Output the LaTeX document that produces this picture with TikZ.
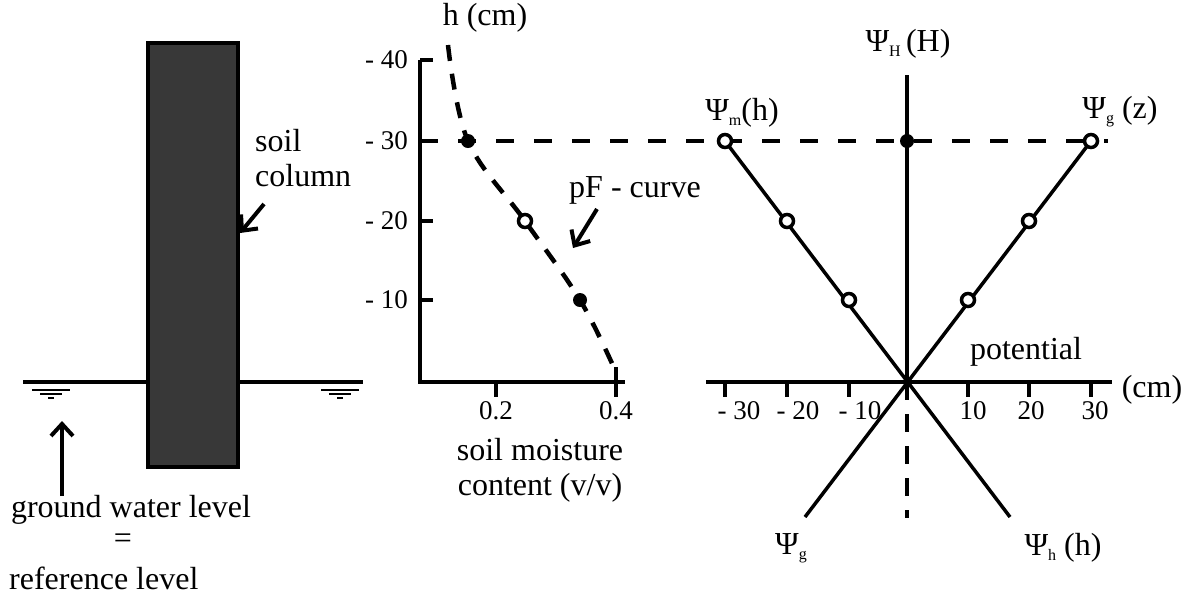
\documentclass[tikz,border=0pt]{standalone}
\usepackage{fontspec}
\setmainfont{Liberation Serif}
\usetikzlibrary{arrows.meta}
\newcommand{\psub}[1]{\raisebox{-5pt}{\fontsize{16}{16}\selectfont #1}}

\begin{document}
\begin{tikzpicture}[x=1pt,y=-1pt,
  lab/.style={font=\fontsize{32}{35}\selectfont,inner sep=0pt,align=center},
  num/.style={font=\fontsize{27}{29}\selectfont,inner sep=0pt},
  axis/.style={line width=4pt},
  gline/.style={line width=3.5pt},
  dline/.style={line width=4.5pt,dash pattern=on 18pt off 20pt},
  fdot/.style={circle,fill,inner sep=0pt,minimum size=14pt},
  odot/.style={circle,draw,fill=white,line width=3.5pt,inner sep=0pt,minimum size=13pt},
  pointer/.style={line width=4pt,-{Straight Barb[length=12pt,width=22pt]}}]
\useasboundingbox (0,0) rectangle (1190,598);
% soil column and ground water level
\draw[axis] (23,382) -- (363,382);
\draw[line width=3.5pt,fill=black!78] (148,43) rectangle (238,467);
\foreach \cx in {51,340} {
  \draw[line width=2pt] (\cx-19,390) -- (\cx+19,390);
  \draw[line width=2pt] (\cx-11,394) -- (\cx+11,394);
  \draw[line width=2pt] (\cx-3,398) -- (\cx+3,398);
}
\node[lab,align=left,anchor=west] (soil) at (255,158) {soil\\column};
\coordinate (soiltail) at (264,204);
\coordinate (soilhead) at (240,233);
\draw[pointer] (soiltail) -- (soilhead);
\node[lab] (gwl) at (131,510) {ground water level};
\node[lab] (eq) at (123,541) {=};
\node[lab,anchor=west] (ref) at (9,578) {reference level};
\coordinate (gwtail) at (62,496);
\coordinate (gwhead) at (62,421);
\draw[pointer] (gwtail) -- (gwhead);
% pF - curve
\draw[axis] (420,60) -- (420,382) -- (625,382);
\foreach \y/\lab in {60/- 40,141/- 30,221/- 20,300/- 10} {
  \draw[axis] (420,\y) -- (433,\y);
  \node[num,anchor=east] at (408,\y) {\lab};
}
\draw[axis] (496,382) -- (496,397);
\draw[axis] (616,367) -- (616,397);
\node[num,anchor=north] (m02) at (496,401) {0.2};
\node[num,anchor=north] (m04) at (616,401) {0.4};
\node[lab] (hcm) at (485,18) {h (cm)};
\node[lab] (moist) at (540,470) {soil moisture\\content (v/v)};
\draw[dline] (420,141) -- (1108,141);
\draw[dline,dash pattern=on 16pt off 13pt] plot[smooth,tension=0.6]
  coordinates {(448,45) (468,141) (525,221) (580,300) (615,370)};
\node[fdot] (pf30) at (468,141) {};
\node[odot] (pf20) at (525,221) {};
\node[fdot] (pf10) at (580,300) {};
\node[lab,anchor=west] (pf) at (569,190) {pF - curve};
\coordinate (pftail) at (597,209);
\coordinate (pfhead) at (573,248);
\draw[pointer] (pftail) -- (pfhead);
% potentials
\draw[axis] (907,75) -- (907,382);
\draw[dline,dash pattern=on 18pt off 14pt] (907,382) -- (907,518);
\draw[axis] (706,382) -- (1112,382);
\foreach \x/\lab/\lx in {725/- 30/739,787/- 20/798,849/- 10/860,968/10/973,1029/20/1031,1091/30/1095} {
  \draw[gline] (\x,382) -- (\x,397);
  \node[num] at (\lx,411) {\lab};
}
\draw[gline] (725,141) -- (1010,517);
\draw[gline] (1091,141) -- (805,517);
\foreach \px/\py [count=\i] in {725/141,787/221,849/300,968/300,1029/221,1091/141}
  \node[odot] (pt\i) at (\px,\py) {};
\node[fdot] (ptH) at (907,141) {};
\node[lab] (psiH) at (908,44) {Ψ\psub{H}\,(H)};
\node[lab] (psim) at (742,113) {Ψ\psub{m}(h)};
\node[lab] (psigz) at (1120,112) {Ψ\psub{g} (z)};
\node[lab] (pot) at (1026,352) {potential};
\node[lab] (cm) at (1152,390) {(cm)};
\node[lab] (psig) at (791,548) {Ψ\psub{g}};
\node[lab] (psih) at (1063,548) {Ψ\psub{h} (h)};
\end{tikzpicture}
\end{document}
